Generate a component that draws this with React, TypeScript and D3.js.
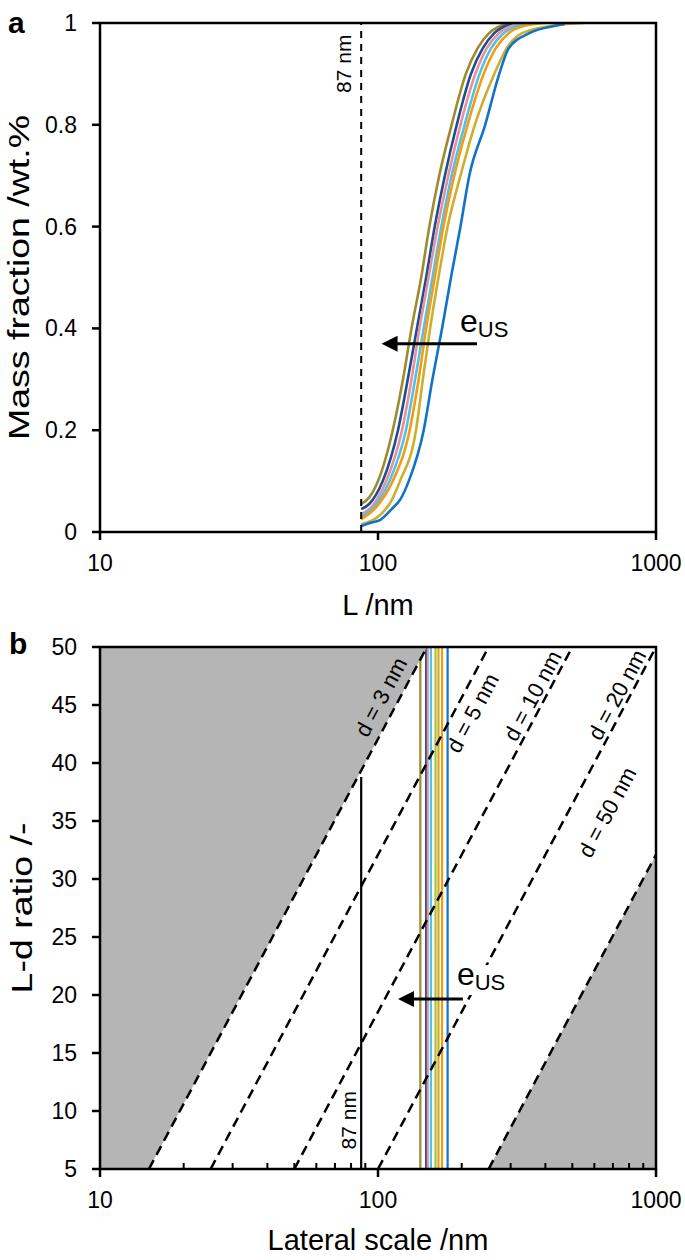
import React from 'react';
import * as d3 from 'd3';

// ---------- data ----------
const X_TICKS = [10, 100, 1000];
const X_MINOR_TICKS = [20, 30, 40, 50, 60, 70, 80, 90, 200, 300, 400, 500, 600, 700, 800, 900];
const Y_TICKS_A = [0, 0.2, 0.4, 0.6, 0.8, 1];
const Y_TICKS_B = [5, 10, 15, 20, 25, 30, 35, 40, 45, 50];
const CUTOFF_L = 87;

const SERIES_NAMES = ['olive', 'navy', 'pink', 'lightblue', 'orange', 'gold', 'blue'];
const SERIES_COLORS = ['#9E8B2E', '#1F4E8A', '#E78FA1', '#4EC2EC', '#F59B10', '#CDAE2E', '#1272C8'];

const oliveL = [87, 93, 100, 113, 123, 132, 143, 153, 166, 184, 207, 228, 251, 278, 306];
const oliveF = [0.055, 0.068, 0.1, 0.2, 0.3, 0.4, 0.5, 0.6, 0.7, 0.8, 0.9, 0.95, 0.98, 0.995, 1.0];
const navyL = [87, 93, 104, 118, 128, 138, 149, 160, 174, 192, 216, 238, 262, 290, 315];
const navyF = [0.045, 0.055, 0.1, 0.2, 0.3, 0.4, 0.5, 0.6, 0.7, 0.8, 0.9, 0.95, 0.98, 0.995, 1.0];
const pinkL = [87, 95, 107, 122, 132, 141, 152, 164, 179, 198, 224, 246, 272, 305, 340];
const pinkF = [0.035, 0.05, 0.1, 0.2, 0.3, 0.4, 0.5, 0.6, 0.7, 0.8, 0.9, 0.95, 0.98, 0.995, 1.0];
const lightblueL = [87, 97, 110, 126, 136, 146, 157, 169, 184, 205, 232, 255, 283, 320, 360];
const lightblueF = [0.03, 0.05, 0.1, 0.2, 0.3, 0.4, 0.5, 0.6, 0.7, 0.8, 0.9, 0.95, 0.98, 0.995, 1.0];
const orangeL = [87, 99, 113, 130, 140, 149, 160, 172, 188, 210, 240, 265, 295, 340, 400];
const orangeF = [0.025, 0.05, 0.1, 0.2, 0.3, 0.4, 0.5, 0.6, 0.7, 0.8, 0.9, 0.95, 0.98, 0.995, 1.0];
const goldL = [87, 100, 110, 120, 137, 145, 154, 165, 178, 198, 223, 262, 290, 330, 430, 550];
const goldF = [0.015, 0.03, 0.055, 0.1, 0.2, 0.3, 0.4, 0.5, 0.6, 0.7, 0.8, 0.9, 0.95, 0.98, 0.995, 1.0];
const blueL = [87, 94, 102, 112, 120, 129, 146, 157, 170, 183, 198, 213, 243, 273, 295, 350, 440, 470];
const blueF = [0.012, 0.018, 0.024, 0.045, 0.063, 0.1, 0.2, 0.3, 0.4, 0.5, 0.6, 0.7, 0.8, 0.9, 0.95, 0.98, 0.995, 0.998];

const SERIES_L = [oliveL, navyL, pinkL, lightblueL, orangeL, goldL, blueL];
const SERIES_F = [oliveF, navyF, pinkF, lightblueF, orangeF, goldF, blueF];

// chart b: median sizes as vertical lines
const D50_COLORS = ['#9E8B2E', '#1F4E8A', '#E78FA1', '#4EC2EC', '#A5C43A', '#D8A623', '#F59B10', '#1272C8'];
const D50_VALUES = [142, 149, 151, 155, 161, 165, 170, 178];

const D_VALUES = [3, 5, 10, 20, 50];
const D_LABEL_RATIO = [45, 45, 45.3, 45.4, 33.2];
const D_LABEL_OFFSET = [-17, 17, -12, -12, -63];
const RATIO_RANGE = [5, 50];
const CUTOFF_TOP_RATIO = 38.8;

const ARROW_A = { fromL: 227, toL: 103, F: 0.37 };
const ARROW_B = { fromL: 202, toL: 118, ratio: 19.65 };

// ---------- layout ----------
const W = 685;
const H = 1260;
const X0 = 100;
const X1 = 656;
const A_TOP = 23;
const A_BOT = 532;
const B_TOP = 647;
const B_BOT = 1169;
const FONT = 'Liberation Sans, Arial, sans-serif';

export default function App() {
  const x = d3.scaleLog().domain([10, 1000]).range([X0, X1]);
  const yA = d3.scaleLinear().domain([0, 1]).range([A_BOT, A_TOP]);
  const yB = d3.scaleLinear().domain(RATIO_RANGE).range([B_BOT, B_TOP]);

  const lineA = d3
    .line<[number, number]>()
    .x((d) => x(d[0]))
    .y((d) => yA(d[1]))
    .curve(d3.curveMonotoneX);

  const dx = x(10 * 10) - x(10); // one decade in px
  const dy = yB(RATIO_RANGE[1]) - yB(RATIO_RANGE[0]);
  const angle = (Math.atan2(dy, dx) * 180) / Math.PI;
  const len = Math.hypot(dx, dy);
  const nx = -dy / len;
  const ny = dx / len;

  const dLinePts = (d: number) => [
    [x(d * RATIO_RANGE[0]), yB(RATIO_RANGE[0])],
    [x(d * RATIO_RANGE[1]), yB(RATIO_RANGE[1])],
  ];

  const leftGray = [
    [x(10), yB(5)],
    [x(D_VALUES[0] * 5), yB(5)],
    [x(D_VALUES[0] * 50), yB(50)],
    [x(10), yB(50)],
  ];
  const dl = D_VALUES[D_VALUES.length - 1];
  const rightGray = [
    [x(dl * 5), yB(5)],
    [x(dl * 50), yB(50)],
    [x(dl * 50), yB(5)],
  ];

  const tickFont = 23;
  const xTitleFont = 29;
  const yTitleFont = 30;
  const yTitleStretch = 1.25;

  return (
    <svg
      width={W}
      height={H}
      style={{ position: 'absolute', left: 0, top: 0, background: '#fff' }}
      fontFamily={FONT}
    >
      <defs>
        <clipPath id="clipB">
          <rect x={X0} y={B_TOP} width={X1 - X0} height={B_BOT - B_TOP} />
        </clipPath>
        <clipPath id="clipA">
          <rect x={X0} y={A_TOP - 2} width={X1 - X0} height={A_BOT - A_TOP + 2} />
        </clipPath>
      </defs>
      <rect x={0} y={0} width={W} height={H} fill="#fff" />

      {/* ---------------- chart a ---------------- */}
      <g clipPath="url(#clipA)">
        {SERIES_NAMES.map((name, i) => (
          <path
            key={name}
            d={lineA(SERIES_L[i].map((l, j) => [l, SERIES_F[i][j]] as [number, number])) || ''}
            fill="none"
            stroke={SERIES_COLORS[i]}
            strokeWidth={2.6}
          />
        ))}
      </g>
      <line
        x1={x(CUTOFF_L)}
        x2={x(CUTOFF_L)}
        y1={yA(0)}
        y2={yA(1)}
        stroke="#000"
        strokeWidth={2}
        strokeDasharray="7,6"
      />
      <text
        transform={`translate(${x(CUTOFF_L) - 18},${yA(0.92)}) rotate(-90)`}
        fontSize={21}
        textAnchor="middle"
        dominantBaseline="central"
      >
        87 nm
      </text>
      {/* frame a */}
      <rect x={X0} y={A_TOP} width={X1 - X0} height={A_BOT - A_TOP} fill="none" stroke="#000" strokeWidth={2.5} />
      {Y_TICKS_A.map((t) => (
        <g key={t}>
          <line x1={X0 - 8} x2={X0} y1={yA(t)} y2={yA(t)} stroke="#000" strokeWidth={2.5} />
          <text x={X0 - 23} y={yA(t)} fontSize={tickFont} textAnchor="end" dominantBaseline="central">
            {t}
          </text>
        </g>
      ))}
      {X_TICKS.map((t) => (
        <g key={t}>
          <line x1={x(t)} x2={x(t)} y1={A_BOT} y2={A_BOT + 8} stroke="#000" strokeWidth={2.5} />
          <text x={x(t)} y={A_BOT + 31} fontSize={tickFont} textAnchor="middle" dominantBaseline="central">
            {t}
          </text>
        </g>
      ))}
      <text x={(X0 + X1) / 2} y={605} fontSize={xTitleFont} textAnchor="middle" dominantBaseline="central">
        L /nm
      </text>
      <text
        transform={`translate(18,${(A_TOP + A_BOT) / 2}) rotate(-90) scale(${yTitleStretch},1)`}
        fontSize={yTitleFont}
        textAnchor="middle"
        dominantBaseline="central"
      >
        Mass fraction /wt.%
      </text>
      <text x={8} y={22} fontSize={30} fontWeight="bold" dominantBaseline="central">
        a
      </text>
      {/* arrow a */}
      <line x1={x(ARROW_A.fromL)} x2={x(ARROW_A.toL) + 14} y1={yA(ARROW_A.F)} y2={yA(ARROW_A.F)} stroke="#000" strokeWidth={3} />
      <path
        d={`M${x(ARROW_A.toL)},${yA(ARROW_A.F)} L${x(ARROW_A.toL) + 16},${yA(ARROW_A.F) - 8} L${x(ARROW_A.toL) + 16},${yA(ARROW_A.F) + 8} Z`}
        fill="#000"
      />
      <text x={x(ARROW_A.fromL) - 17} y={yA(ARROW_A.F) - 12}>
        <tspan fontSize={32}>e</tspan>
        <tspan fontSize={22} dy={5}>US</tspan>
      </text>

      {/* ---------------- chart b ---------------- */}
      <g clipPath="url(#clipB)">
        {D50_VALUES.map((v, i) => (
          <line key={i} x1={x(v)} x2={x(v)} y1={yB(5)} y2={yB(50)} stroke={D50_COLORS[i]} strokeWidth={2.2} />
        ))}
        <polygon points={leftGray.map((p) => p.join(',')).join(' ')} fill="#B5B5B5" />
        <polygon points={rightGray.map((p) => p.join(',')).join(' ')} fill="#B5B5B5" />
        <line
          x1={x(CUTOFF_L)}
          x2={x(CUTOFF_L)}
          y1={yB(5)}
          y2={yB(CUTOFF_TOP_RATIO)}
          stroke="#000"
          strokeWidth={2.2}
        />
        {D_VALUES.map((d) => {
          const p = dLinePts(d);
          return (
            <line
              key={d}
              x1={p[0][0]}
              y1={p[0][1]}
              x2={p[1][0]}
              y2={p[1][1]}
              stroke="#000"
              strokeWidth={2.5}
              strokeDasharray="10,6"
            />
          );
        })}
      </g>
      {D_VALUES.map((d, i) => {
        const r = D_LABEL_RATIO[i];
        const frac = (r - RATIO_RANGE[0]) / (RATIO_RANGE[1] - RATIO_RANGE[0]);
        const px = x(d * RATIO_RANGE[0]) + frac * dx;
        const py = yB(r);
        const off = D_LABEL_OFFSET[i];
        return (
          <text
            key={d}
            transform={`translate(${px + nx * off},${py + ny * off}) rotate(${angle})`}
            fontSize={22}
            textAnchor="middle"
            dominantBaseline="central"
          >
            {`d = ${d} nm`}
          </text>
        );
      })}
      <text
        transform={`translate(${x(CUTOFF_L) - 13},${yB(9.2)}) rotate(-90)`}
        fontSize={21}
        textAnchor="middle"
        dominantBaseline="central"
      >
        87 nm
      </text>
      {/* arrow b */}
      <rect x={x(ARROW_B.fromL) - 8} y={yB(ARROW_B.ratio) - 34} width={50} height={30} fill="#fff" />
      <line x1={x(ARROW_B.fromL)} x2={x(ARROW_B.toL) + 14} y1={yB(ARROW_B.ratio)} y2={yB(ARROW_B.ratio)} stroke="#000" strokeWidth={3} />
      <path
        d={`M${x(ARROW_B.toL)},${yB(ARROW_B.ratio)} L${x(ARROW_B.toL) + 16},${yB(ARROW_B.ratio) - 8} L${x(ARROW_B.toL) + 16},${yB(ARROW_B.ratio) + 8} Z`}
        fill="#000"
      />
      <text x={x(ARROW_B.fromL) - 6} y={yB(ARROW_B.ratio) - 14}>
        <tspan fontSize={32}>e</tspan>
        <tspan fontSize={22} dy={5}>US</tspan>
      </text>
      {/* frame b */}
      <rect x={X0} y={B_TOP} width={X1 - X0} height={B_BOT - B_TOP} fill="none" stroke="#000" strokeWidth={2.5} />
      {X_MINOR_TICKS.map((t) => (
        <line key={t} x1={x(t)} x2={x(t)} y1={B_BOT} y2={B_BOT - 6} stroke="#000" strokeWidth={2} />
      ))}
      {Y_TICKS_B.map((t) => (
        <g key={t}>
          <line x1={X0 - 8} x2={X0} y1={yB(t)} y2={yB(t)} stroke="#000" strokeWidth={2.5} />
          <text x={X0 - 23} y={yB(t)} fontSize={tickFont} textAnchor="end" dominantBaseline="central">
            {t}
          </text>
        </g>
      ))}
      {X_TICKS.map((t) => (
        <g key={t}>
          <line x1={x(t)} x2={x(t)} y1={B_BOT} y2={B_BOT + 8} stroke="#000" strokeWidth={2.5} />
          <text x={x(t)} y={B_BOT + 31} fontSize={tickFont} textAnchor="middle" dominantBaseline="central">
            {t}
          </text>
        </g>
      ))}
      <text x={(X0 + X1) / 2} y={1240} fontSize={xTitleFont} textAnchor="middle" dominantBaseline="central">
        Lateral scale /nm
      </text>
      <text
        transform={`translate(21,${(B_TOP + B_BOT) / 2}) rotate(-90) scale(${yTitleStretch},1)`}
        fontSize={yTitleFont}
        textAnchor="middle"
        dominantBaseline="central"
      >
        L-d ratio /-
      </text>
      <text x={9} y={643} fontSize={30} fontWeight="bold" dominantBaseline="central">
        b
      </text>
    </svg>
  );
}
